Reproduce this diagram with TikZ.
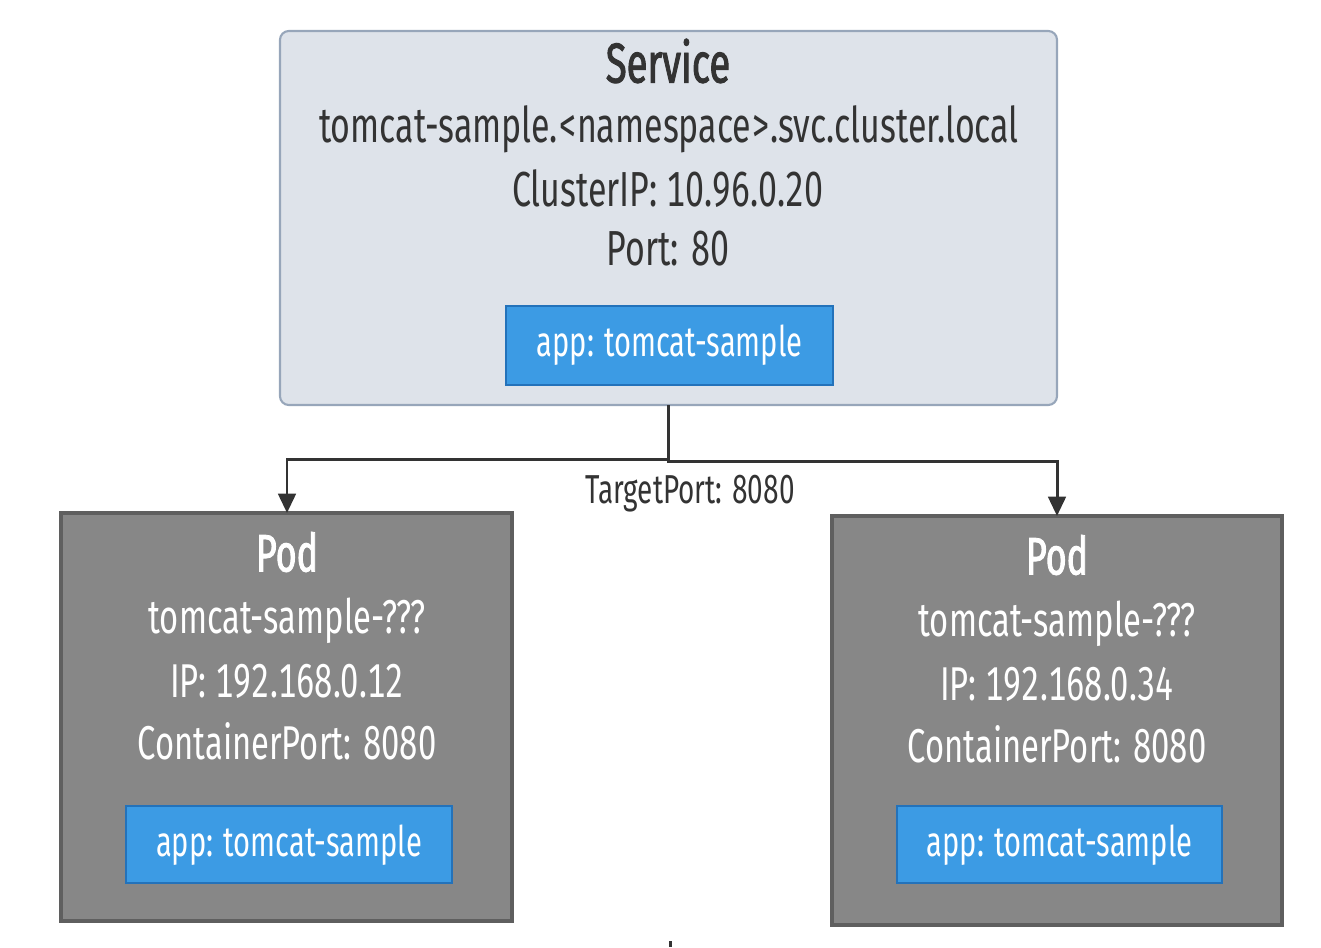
\documentclass[tikz,border=0pt]{standalone}
\usepackage{fontspec}
\setmainfont{Fira Sans}[FakeStretch=0.69, Numbers=Monospaced]
\newfontfamily\titlefont{Fira Sans}[FakeStretch=0.68, FakeBold=1.6]
\usetikzlibrary{arrows.meta}
\definecolor{svcfill}{HTML}{DEE3EA}
\definecolor{svcdraw}{HTML}{97A6BA}
\definecolor{podfill}{HTML}{878787}
\definecolor{poddraw}{HTML}{5F5F5F}
\definecolor{lblfill}{HTML}{3C9BE4}
\definecolor{lbldraw}{HTML}{2372BA}
\definecolor{ink}{HTML}{333333}
\tikzset{
  svcbox/.style={draw=svcdraw, fill=svcfill, line width=1.2pt, rounded corners=5pt},
  podbox/.style={draw=poddraw, fill=podfill, line width=1.8pt},
  lblbox/.style={draw=lbldraw, fill=lblfill, line width=0.9pt},
  title/.style={font=\fontsize{32}{36}\titlefont},
  podtitle/.style={font=\fontsize{30}{34}\titlefont, text=white},
  body/.style={font=\fontsize{28}{32}\selectfont, text=ink},
  podbody/.style={font=\fontsize{27}{31}\selectfont, text=white},
  lbltext/.style={font=\fontsize{24}{28}\selectfont, text=white},
  conn/.style={draw=ink, line width=1.7pt, -{Triangle[length=11pt,width=10pt]}},
}
\begin{document}
\begin{tikzpicture}[x=0.02cm,y=-0.02cm]
\useasboundingbox (0,0) rectangle (1321,947);
% Service
\path[svcbox] (280,31) rectangle (1057,405);
\coordinate (svcbot) at (668,405);
\node[title, text=ink] (svct) at (668,61) {Service};
\node[body] (svc1) at (669,129) {tomcat-sample.<namespace>.svc.cluster.local};
\node[body] (svc2) at (668,189) {ClusterIP: 10.96.0.20};
\node[body] (svc3) at (668,249) {Port: 80};
\path[lblbox] (506,306) rectangle (833,385);
\node[lbltext] (svcl) at (669.5,345) {app: tomcat-sample};
% Left pod
\path[podbox] (61,513) rectangle (512,921);
\coordinate (podLtop) at (287,513);
\node[podtitle] (pLt) at (287,552) {Pod};
\node[podbody] (pL1) at (287,621) {tomcat-sample-???};
\node[podbody] (pL2) at (287,681) {IP: 192.168.0.12};
\node[podbody] (pL3) at (287,741) {ContainerPort: 8080};
\path[lblbox] (126,806) rectangle (452,883);
\node[lbltext] (pLl) at (289,845) {app: tomcat-sample};
% Right pod
\path[podbox] (832,516) rectangle (1282,925);
\coordinate (podRtop) at (1057,516);
\node[podtitle] (pRt) at (1057,555) {Pod};
\node[podbody] (pR1) at (1057,624) {tomcat-sample-???};
\node[podbody] (pR2) at (1057,684) {IP: 192.168.0.34};
\node[podbody] (pR3) at (1057,744) {ContainerPort: 8080};
\path[lblbox] (897,806) rectangle (1222,883);
\node[lbltext] (pRl) at (1059.5,845) {app: tomcat-sample};
% connectors
\coordinate (jL) at (287,459);
\coordinate (jR) at (1057,461);
\draw[conn] (svcbot) -- (668,459) -- (jL) -- (podLtop);
\draw[conn] (668,459) -- (668,461) -- (jR) -- (podRtop);
\node[font=\fontsize{23}{27}\selectfont, text=ink] (tp) at (690,494) {TargetPort: 8080};
% stray mark
\coordinate (m1) at (670,941);
\coordinate (m2) at (670,947);
\draw[ink, line width=1.7pt] (m1) -- (m2);
\end{tikzpicture}
\end{document}
